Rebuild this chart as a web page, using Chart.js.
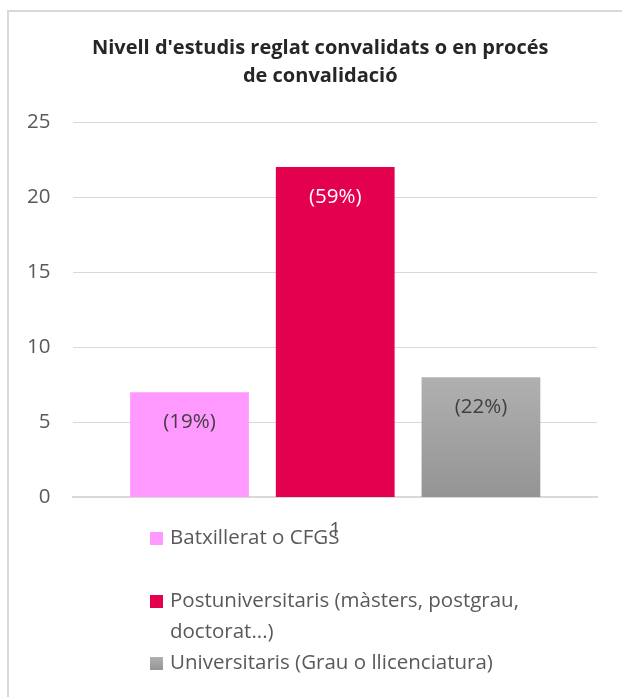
<!DOCTYPE html>
<html>
<head>
<meta charset="utf-8">
<script src="https://cdn.jsdelivr.net/npm/chart.js@4/dist/chart.umd.min.js"></script>
<style>
  html, body { margin: 0; padding: 0; background: #fff; }
  #marc { position: absolute; left: 7px; top: 10px; width: 640px; height: 720px;
          border-left: 2px solid #d9d9d9; border-top: 2px solid #d9d9d9; }
  #caixa { position: absolute; left: 0; top: 0; width: 622px; height: 697px; }
</style>
</head>
<body>
<div id="marc"></div>
<div id="caixa"><canvas id="grafic"></canvas></div>
<script>
// dades
var titol = ["Nivell d'estudis reglat convalidats o en procés", "de convalidació"];
var categories = ["1"];
var sèries = ["Batxillerat o CFGS", "Postuniversitaris (màsters, postgrau, doctorat...)", "Universitaris (Grau o llicenciatura)"];
var valors = [7, 22, 8];
var percentatges = ["(19%)", "(59%)", "(22%)"];
var colors = ["#ff99ff", "#e3004f", "grisDegradat"];
var colorsEtiqueta = ["#404040", "#ffffff", "#404040"];
var marquesY = [0, 5, 10, 15, 20, 25];

var FONT = "'Open Sans', sans-serif";
var MIDA = 20.5;

function colorBarra(i) {
	return function (context) {
		if (colors[i] != "grisDegradat") return colors[i];
		var chart = context.chart;
		var area = chart.chartArea;
		if (!area) return "#a6a6a6";
		var y = chart.scales.y;
		var grad = chart.ctx.createLinearGradient(0, y.getPixelForValue(valors[i]), 0, y.getPixelForValue(0));
		grad.addColorStop(0, "#b0b0b0");
		grad.addColorStop(1, "#949494");
		return grad;
	};
}

var datasets = [];
for (var i = 0; i < sèries.length; i++) {
	var dades = [];
	for (var c = 0; c < categories.length; c++) dades.push(valors[i]);
	datasets.push({
		label: sèries[i],
		data: dades,
		backgroundColor: colorBarra(i),
		borderWidth: 0,
		categoryPercentage: 0.835,
		barPercentage: 0.815
	});
}

// títol (una mica desplaçat a l'esquerra del centre de l'àrea, com l'original)
var titolGrafic = {
	id: "titolGrafic",
	afterDraw: function (chart) {
		var ctx = chart.ctx;
		var cx = (chart.chartArea.left + chart.chartArea.right) / 2 - 15;
		ctx.save();
		ctx.font = "bold 20px " + FONT;
		ctx.fillStyle = "#262626";
		ctx.textAlign = "center";
		ctx.textBaseline = "middle";
		for (var l = 0; l < titol.length; l++) {
			ctx.fillText(titol[l], cx, 48.5 + l * 28);
		}
		ctx.restore();
	}
};

// etiquetes de percentatge dins de les barres
var etiquetesBarres = {
	id: "etiquetesBarres",
	afterDatasetsDraw: function (chart) {
		var ctx = chart.ctx;
		ctx.save();
		ctx.font = MIDA + "px " + FONT;
		ctx.textAlign = "center";
		ctx.textBaseline = "middle";
		chart.data.datasets.forEach(function (ds, i) {
			var meta = chart.getDatasetMeta(i);
			meta.data.forEach(function (barra) {
				ctx.fillStyle = colorsEtiqueta[i];
				ctx.fillText(percentatges[i], barra.x, barra.y + 30);
			});
		});
		ctx.restore();
	}
};

// llegenda vertical com la d'Excel
var llegenda = {
	id: "llegenda",
	afterDraw: function (chart) {
		var ctx = chart.ctx;
		var posY = [538, 601, 663];
		var xCaixa = 150, xText = 170, ampleMax = 400, interlineat = 31;
		ctx.save();
		ctx.font = MIDA + "px " + FONT;
		ctx.textBaseline = "middle";
		ctx.textAlign = "left";
		for (var i = 0; i < sèries.length; i++) {
			var y = posY[i];
			if (colors[i] == "grisDegradat") {
				var g = ctx.createLinearGradient(0, y - 6, 0, y + 7);
				g.addColorStop(0, "#b0b0b0");
				g.addColorStop(1, "#949494");
				ctx.fillStyle = g;
			} else {
				ctx.fillStyle = colors[i];
			}
			ctx.fillRect(xCaixa, y - 6, 13, 13);
			ctx.fillStyle = "#595959";
			var paraules = sèries[i].split(" ");
			var linia = "";
			var yl = y;
			for (var p = 0; p < paraules.length; p++) {
				var prova = linia ? linia + " " + paraules[p] : paraules[p];
				if (ctx.measureText(prova).width > ampleMax && linia) {
					ctx.fillText(linia, xText, yl);
					linia = paraules[p];
					yl += interlineat;
				} else {
					linia = prova;
				}
			}
			ctx.fillText(linia, xText, yl);
		}
		ctx.restore();
	}
};

new Chart(document.getElementById("grafic"), {
	type: "bar",
	data: {
		labels: categories,
		datasets: datasets
	},
	options: {
		responsive: true,
		maintainAspectRatio: false,
		animation: false,
		layout: {
			padding: { left: 4, right: 25, top: 122, bottom: 135 }
		},
		scales: {
			x: {
				grid: { display: false, drawTicks: false },
				border: { display: true, color: "#d9d9d9", width: 2 },
				ticks: { color: "#595959", font: { size: MIDA, family: FONT }, padding: 20 }
			},
			y: {
				min: 0,
				max: 25,
				afterBuildTicks: function (axis) {
					axis.ticks = marquesY.map(function (v) { return { value: v }; });
				},
				grid: { color: "#d9d9d9", lineWidth: 1, drawTicks: false },
				border: { display: false },
				ticks: { color: "#595959", font: { size: MIDA, family: FONT }, padding: 23 }
			}
		},
		plugins: {
			legend: { display: false },
			tooltip: { enabled: false },
			title: { display: false }
		}
	},
	plugins: [titolGrafic, etiquetesBarres, llegenda]
});
</script>
</body>
</html>
